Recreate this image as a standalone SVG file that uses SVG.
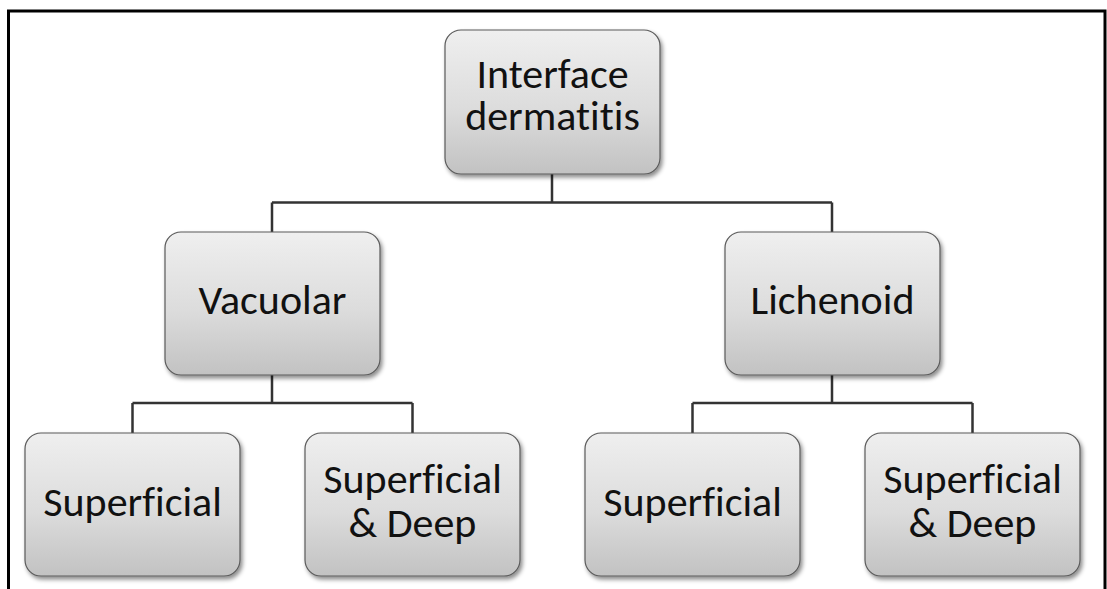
<svg xmlns="http://www.w3.org/2000/svg" width="1107" height="589" viewBox="0 0 1107 589">
  <style>
    .box { fill: url(#g); stroke: #5a5a5a; stroke-width: 1.2; filter: url(#sh); }
    .lbl { font-family: Carlito, Lato, "Liberation Sans", sans-serif; font-size: 42px; fill: #111; text-anchor: middle; font-variant-ligatures: none; }
    .conn { fill: none; stroke: #333; stroke-width: 2.5; }
  </style>
  <defs>
    <linearGradient id="g" x1="0" y1="0" x2="0" y2="1">
      <stop offset="0" stop-color="#efefef"/>
      <stop offset="0.55" stop-color="#dcdcdc"/>
      <stop offset="1" stop-color="#c2c2c2"/>
    </linearGradient>
    <filter id="sh" x="-10%" y="-10%" width="125%" height="125%">
      <feDropShadow dx="2" dy="3" stdDeviation="2" flood-color="#000" flood-opacity="0.45"/>
    </filter>
  </defs>
  <rect width="1107" height="589" fill="#fff"/>
  <path d="M8.5,589 V11 H1105 V589" fill="none" stroke="#000" stroke-width="3"/>

  <g id="connectors">
    <path class="conn" d="M552,174 V202.5 M272,202.5 H832 M272,202.5 V232 M832,202.5 V232"/>
    <path class="conn" d="M272,375 V403 M132.5,403 H412.5 M132.5,403 V433 M412.5,403 V433"/>
    <path class="conn" d="M832,375 V403 M692.5,403 H972.5 M692.5,403 V433 M972.5,403 V433"/>
  </g>

  <g id="interface">
    <rect class="box" x="445" y="30" width="215" height="144" rx="16"/>
    <text class="lbl" x="552.5" y="88">Interface</text>
    <text class="lbl" x="552.5" y="130">dermatitis</text>
  </g>
  <g id="vacuolar">
    <rect class="box" x="165" y="232" width="215" height="143" rx="16"/>
    <text class="lbl" x="272.5" y="314">Vacuolar</text>
  </g>
  <g id="lichenoid">
    <rect class="box" x="725" y="232" width="215" height="143" rx="16"/>
    <text class="lbl" x="832.5" y="314">Lichenoid</text>
  </g>
  <g id="vac-superficial">
    <rect class="box" x="25" y="433" width="215" height="143" rx="16"/>
    <text class="lbl" x="132.5" y="516">Superficial</text>
  </g>
  <g id="vac-deep">
    <rect class="box" x="305" y="433" width="215" height="143" rx="16"/>
    <text class="lbl" x="412.5" y="493">Superficial</text>
    <text class="lbl" x="412.5" y="537">&amp; Deep</text>
  </g>
  <g id="lich-superficial">
    <rect class="box" x="585" y="433" width="215" height="143" rx="16"/>
    <text class="lbl" x="692.5" y="516">Superficial</text>
  </g>
  <g id="lich-deep">
    <rect class="box" x="865" y="433" width="215" height="143" rx="16"/>
    <text class="lbl" x="972.5" y="493">Superficial</text>
    <text class="lbl" x="972.5" y="537">&amp; Deep</text>
  </g>
</svg>
